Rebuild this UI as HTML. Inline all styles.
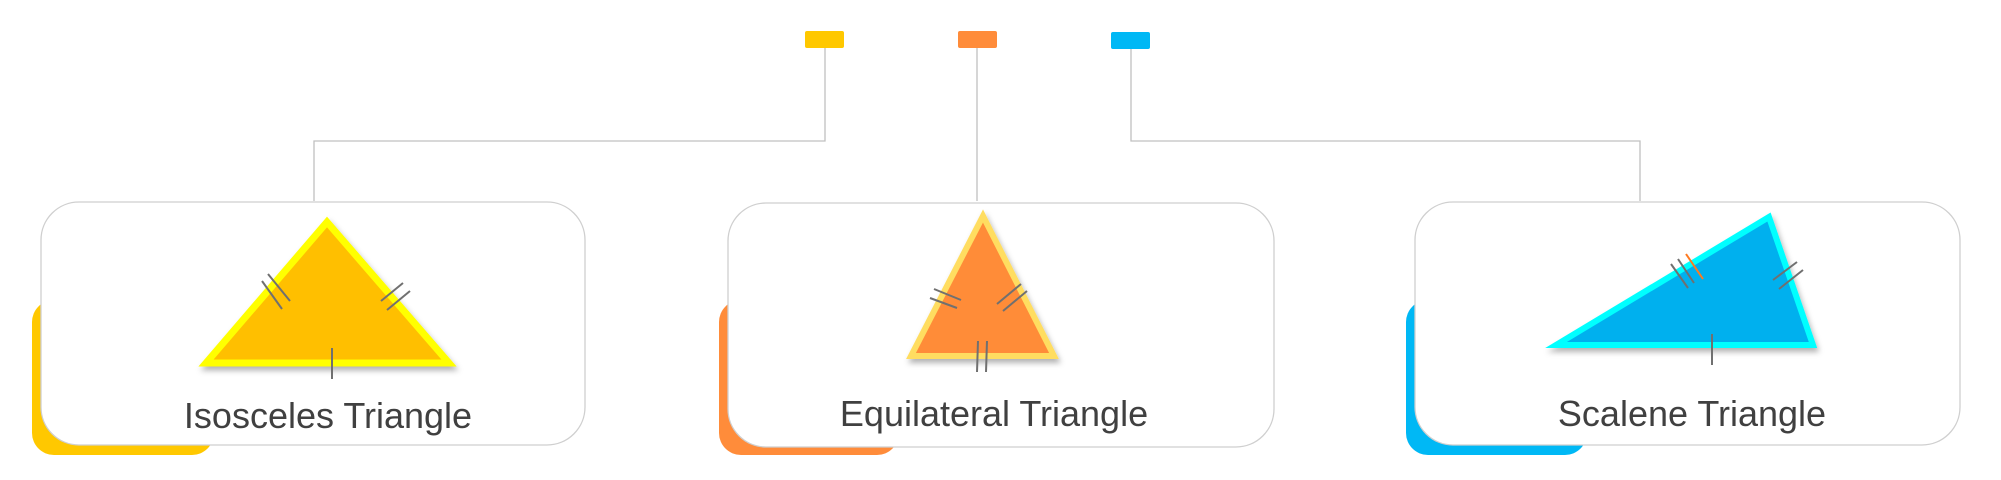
<!DOCTYPE html>
<html><head><meta charset="utf-8"><style>
html,body{margin:0;padding:0;background:#fff;}
svg{display:block;}
text{font-family:"Liberation Sans",sans-serif;fill:#404040;}
</style></head><body>
<svg width="2001" height="480" viewBox="0 0 2001 480">
<defs>
<filter id="sh" x="-20%" y="-20%" width="140%" height="140%"><feDropShadow dx="2" dy="4" stdDeviation="3" flood-color="#000" flood-opacity="0.3"/></filter>
</defs>
<!-- legend squares -->
<rect x="805" y="31" width="39" height="17" rx="2" fill="#ffc800"/>
<rect x="958" y="31" width="39" height="17" rx="2" fill="#ff8c3a"/>
<rect x="1111" y="32" width="39" height="17" rx="2" fill="#00b8f5"/>
<!-- connectors -->
<g fill="none" stroke="#c0c0c0" stroke-width="1.3">
<polyline points="825,48 825,141 314,141 314,201"/>
<polyline points="977,48 977,201"/>
<polyline points="1131,49 1131,141 1640,141 1640,201"/>
</g>
<!-- colored backing blocks -->
<rect x="32" y="300" width="182" height="155" rx="22" fill="#ffc800"/>
<rect x="719" y="300" width="180" height="155" rx="22" fill="#ff8c3a"/>
<rect x="1406" y="300" width="181" height="155" rx="22" fill="#00b8f5"/>
<!-- cards -->
<rect x="41" y="202" width="544" height="243" rx="38" fill="#fff" stroke="#cfcfcf" stroke-width="1.3"/>
<rect x="728" y="203" width="546" height="244" rx="38" fill="#fff" stroke="#cfcfcf" stroke-width="1.3"/>
<rect x="1415" y="202" width="545" height="243" rx="38" fill="#fff" stroke="#cfcfcf" stroke-width="1.3"/>
<!-- triangles -->
<polygon points="327,222 206,363 449,363" fill="#ffbf00" stroke="#ffff00" stroke-width="7" filter="url(#sh)"/>
<polygon points="983,216 911,356 1054,356" fill="#ff8c37" stroke="#ffdd60" stroke-width="6" filter="url(#sh)"/>
<polygon points="1769,217 1556,345 1813,345" fill="#00b0ee" stroke="#00ffff" stroke-width="6" filter="url(#sh)"/>
<!-- tick marks -->
<g stroke="#707070" stroke-width="2">
<line x1="262" y1="281" x2="282" y2="309"/><line x1="268" y1="274" x2="290" y2="301"/>
<line x1="381" y1="301" x2="403" y2="283"/><line x1="387" y1="310" x2="410" y2="291"/>
<line x1="332" y1="348" x2="332" y2="379"/>
<line x1="930" y1="298" x2="957" y2="308"/><line x1="934" y1="289" x2="961" y2="300"/>
<line x1="997" y1="304" x2="1021" y2="284"/><line x1="1003" y1="311" x2="1027" y2="291"/>
<line x1="978" y1="341" x2="977" y2="372"/><line x1="987" y1="341" x2="986" y2="372"/>
<line x1="1671" y1="264" x2="1688" y2="288"/><line x1="1678" y1="259" x2="1694" y2="283"/>
<line x1="1773" y1="280" x2="1797" y2="262"/><line x1="1779" y1="289" x2="1803" y2="270"/>
<line x1="1712" y1="334" x2="1712" y2="365"/>
</g>
<line x1="1686" y1="254" x2="1703" y2="279" stroke="#ff7a20" stroke-width="2"/>
<!-- labels -->
<text x="328" y="428" font-size="36" text-anchor="middle">Isosceles Triangle</text>
<text x="994" y="426" font-size="36" text-anchor="middle">Equilateral Triangle</text>
<text x="1692" y="426" font-size="36" text-anchor="middle">Scalene Triangle</text>
</svg>
</body></html>
